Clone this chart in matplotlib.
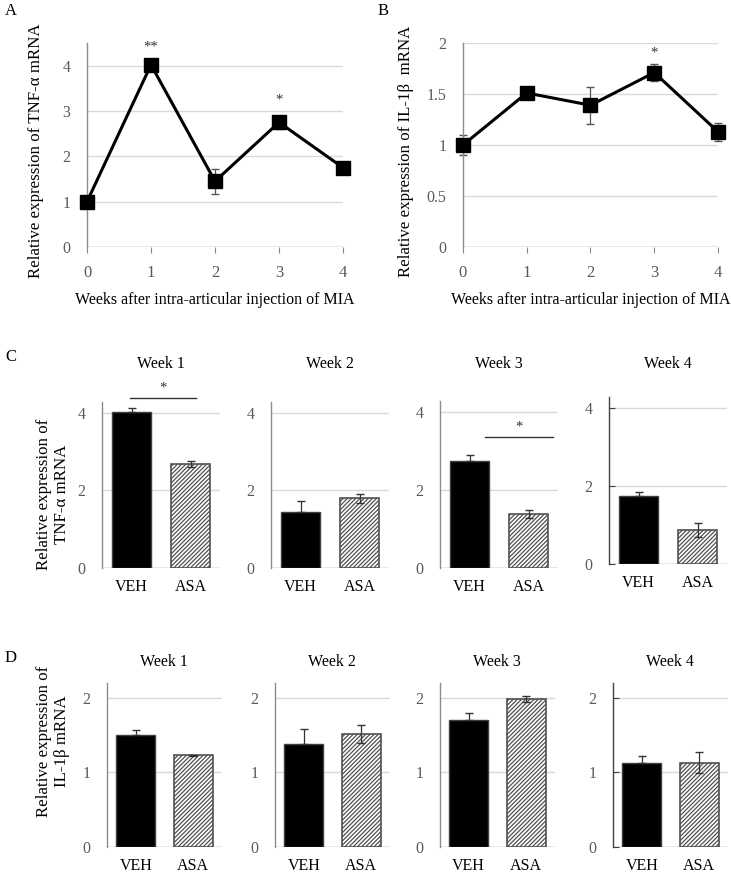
import matplotlib
matplotlib.use("Agg")
import matplotlib.pyplot as plt
import numpy as np

plt.rcParams['font.family'] = ['Liberation Serif', 'DejaVu Serif']
plt.rcParams['hatch.linewidth'] = 0.9

# ---- data ----
weeks = [0, 1, 2, 3, 4]
tnf_time = [1.0, 4.02, 1.45, 2.75, 1.75]
tnf_time_err = [0.0, 0.05, 0.27, 0.15, 0.07]
il1_time = [1.0, 1.51, 1.39, 1.71, 1.13]
il1_time_err = [0.10, 0.06, 0.18, 0.08, 0.09]
tnf_sig = ['', '**', '', '*', '']
il1_sig = ['', '', '', '*', '']

groups = ['VEH', 'ASA']
week_titles = ['Week 1', 'Week 2', 'Week 3', 'Week 4']
tnf_veh = [4.02, 1.45, 2.75, 1.75]
tnf_veh_err = [0.10, 0.27, 0.15, 0.10]
tnf_asa = [2.68, 1.80, 1.38, 0.88]
tnf_asa_err = [0.08, 0.12, 0.10, 0.18]
il1_veh = [1.50, 1.38, 1.71, 1.13]
il1_veh_err = [0.07, 0.20, 0.09, 0.09]
il1_asa = [1.23, 1.52, 1.99, 1.13]
il1_asa_err = [0.01, 0.12, 0.04, 0.14]
tnf_bar_sig = [True, False, True, False]

W, H = 731, 873
fig = plt.figure(figsize=(W / 100, H / 100), dpi=100)

def add_ax(left, right, bottom, top):
    return fig.add_axes([left / W, 1 - bottom / H, (right - left) / W, (bottom - top) / H])

def fy(y):
    return 1 - y / H

GRID = '#d9d9d9'
SPINE = '#8c8c8c'
TICKC = '#595959'
FS = 11.5
YFS = 12.2

def style(ax, yt, dark=False):
    for s in ['top', 'right', 'bottom']:
        ax.spines[s].set_visible(False)
    ax.spines['left'].set_color('#404040' if dark else SPINE)
    ax.spines['left'].set_linewidth(1.0)
    ax.set_yticks(yt)
    ax.set_yticklabels([('%g' % v) for v in yt])
    if dark:
        ax.tick_params(axis='y', direction='in', length=4, color='#404040',
                       labelsize=FS, labelcolor=TICKC, pad=12)
    else:
        ax.tick_params(axis='y', length=0, labelsize=FS, labelcolor=TICKC, pad=12)
    for v in yt:
        ax.axhline(v, color=GRID if v != 0 else SPINE, lw=1.0, zorder=0)

# ---- Panel A ----
axA = add_ax(87, 343, 247, 43)
axA.set_xlim(0, 4)
axA.set_ylim(0, 4.5)
style(axA, [0, 1, 2, 3, 4])
axA.errorbar(weeks, tnf_time, yerr=tnf_time_err, fmt='none', ecolor='#555555', elinewidth=0.9, capsize=3, zorder=2, clip_on=False)
axA.plot(weeks, tnf_time, color='black', lw=2.2, marker='s', markersize=10, zorder=3, clip_on=False)
for x, y, e, s in zip(weeks, tnf_time, tnf_time_err, tnf_sig):
    if s:
        axA.text(x, y + e + 0.2, s, ha='center', va='bottom', fontsize=10.5, color='#333333')
axA.set_xticks(weeks)
axA.tick_params(axis='x', length=4, color=SPINE, labelsize=FS + 0.5, labelcolor=TICKC, pad=9)
axA.set_xlabel('Weeks after intra-articular injection of MIA', fontsize=FS, labelpad=8)
axA.set_ylabel('Relative expression of TNF-α mRNA', fontsize=YFS, labelpad=13)
axA.yaxis.label.set_y(0.47)
fig.text(5 / W, fy(11), 'A', fontsize=12, va='center')

# ---- Panel B ----
axB = add_ax(463, 718, 247, 43)
axB.set_xlim(0, 4)
axB.set_ylim(0, 2)
style(axB, [0, 0.5, 1, 1.5, 2])
axB.errorbar(weeks, il1_time, yerr=il1_time_err, fmt='none', ecolor='#555555', elinewidth=0.9, capsize=3, zorder=2, clip_on=False)
axB.plot(weeks, il1_time, color='black', lw=2.2, marker='s', markersize=10, zorder=3, clip_on=False)
for x, y, e, s in zip(weeks, il1_time, il1_time_err, il1_sig):
    if s:
        axB.text(x, y + e + 0.05, s, ha='center', va='bottom', fontsize=10.5, color='#333333')
axB.set_xticks(weeks)
axB.tick_params(axis='x', length=4, color=SPINE, labelsize=FS + 0.5, labelcolor=TICKC, pad=9)
axB.set_xlabel('Weeks after intra-articular injection of MIA', fontsize=FS, labelpad=8)
axB.set_ylabel('Relative expression of IL-1β  mRNA', fontsize=YFS, labelpad=9)
axB.yaxis.label.set_y(0.47)
fig.text(378 / W, fy(11), 'B', fontsize=12, va='center')

# ---- bar panels ----
def bar_panel(ax, veh, veh_e, asa, asa_e, top, yt, dark):
    ax.set_xlim(-0.5, 1.5)
    ax.set_ylim(0, top)
    style(ax, yt, dark)
    x = np.arange(len(groups))
    ax.bar(x[0], veh, width=0.67, color='black', edgecolor='#404040', lw=1, zorder=2)
    ax.bar(x[1], asa, width=0.67, color='white', edgecolor='#505050', hatch='////////', lw=1.2, zorder=2)
    ax.errorbar(x, [veh, asa], yerr=[[0, asa_e], [veh_e, asa_e]], fmt='none', ecolor='#333333',
                elinewidth=0.9, capsize=3, zorder=3)
    ax.set_xticks(x)
    ax.set_xticklabels(groups)
    ax.tick_params(axis='x', length=0, labelsize=FS, pad=8)

c_lefts = [102, 271, 440, 609]
c_bottoms = [568, 568, 568, 564]
c_tops = [402, 402, 401, 397]
sig_x = [[-0.03, 1.09], None, [0.26, 1.41], None]
sig_y = [4.38, None, 3.35, None]
for i in range(4):
    ax = add_ax(c_lefts[i], c_lefts[i] + 118, c_bottoms[i], c_tops[i])
    bar_panel(ax, tnf_veh[i], tnf_veh_err[i], tnf_asa[i], tnf_asa_err[i], 4.28, [0, 2, 4], i == 3)
    fig.text((c_lefts[i] + 59) / W, fy(364), week_titles[i], fontsize=FS, ha='center', va='center')
    if tnf_bar_sig[i]:
        xs, yl = sig_x[i], sig_y[i]
        ax.plot(xs, [yl, yl], color='#333333', lw=1, clip_on=False)
        ax.text(np.mean(xs), yl + 0.1, '*', ha='center', va='bottom', fontsize=10.5, color='#333333')
fig.text(53 / W, fy(494), 'Relative expression of\nTNF-α mRNA', fontsize=YFS, rotation=90,
         ha='center', va='center', linespacing=1.25)
fig.text(5 / W, fy(357), 'C', fontsize=12, va='center')

d_lefts = [107, 275, 440, 613]
for i in range(4):
    ax = add_ax(d_lefts[i], d_lefts[i] + 115, 847, 683)
    bar_panel(ax, il1_veh[i], il1_veh_err[i], il1_asa[i], il1_asa_err[i], 2.2, [0, 1, 2], i == 3)
    fig.text((d_lefts[i] + 57) / W, fy(662), week_titles[i], fontsize=FS, ha='center', va='center')
fig.text(53 / W, fy(741), 'Relative expression of\nIL-1β mRNA', fontsize=YFS, rotation=90,
         ha='center', va='center', linespacing=1.25)
fig.text(5 / W, fy(658), 'D', fontsize=12, va='center')

fig.savefig('out.png', dpi=100)
